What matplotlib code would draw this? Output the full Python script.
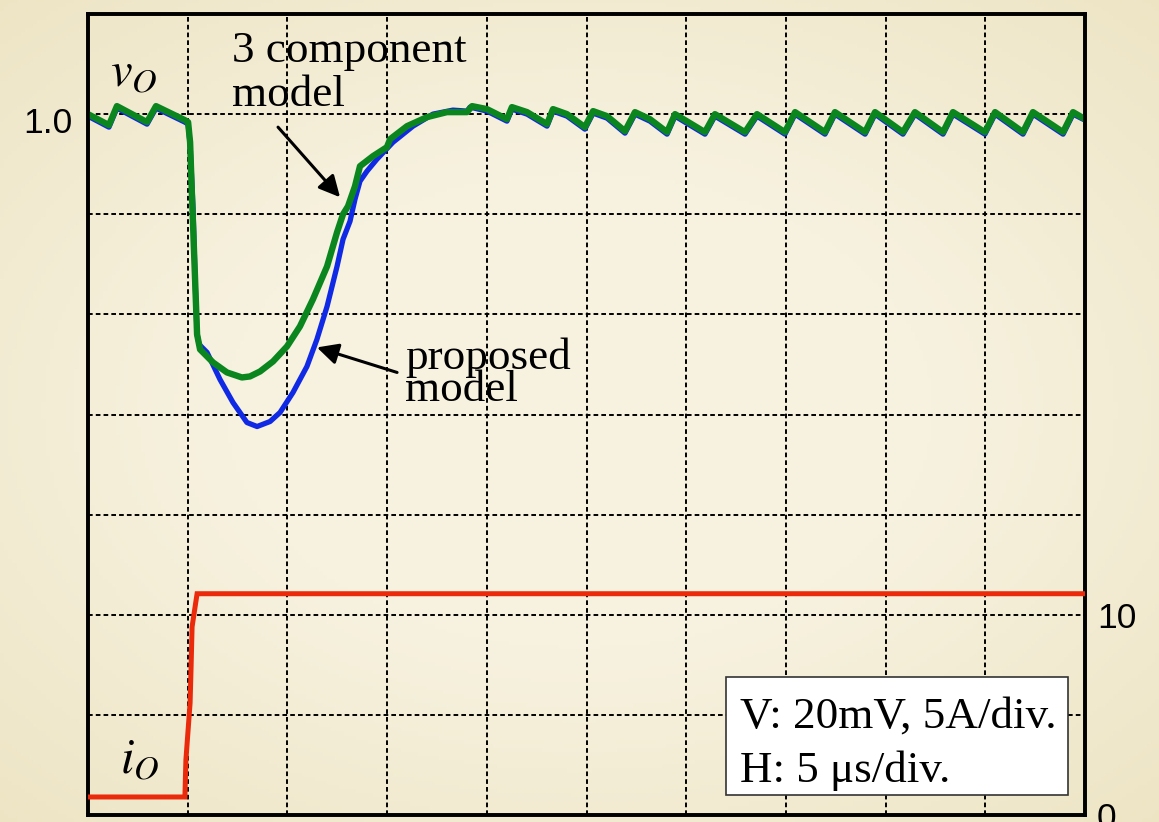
import numpy as np
import matplotlib
matplotlib.use("Agg")
import matplotlib.pyplot as plt
import matplotlib.transforms as mtransforms
from matplotlib.patches import Rectangle

# ---- waveform data (time in microseconds, output voltage in V, current in A) ----
t_three = [0.00, 1.05, 1.45, 2.96, 3.41, 4.86, 5.02, 5.12, 5.22, 5.37, 5.47, 5.62,
           6.27, 6.97, 7.72, 8.12, 8.63, 9.28, 9.98, 10.63, 11.28, 11.99, 12.49,
           12.79, 13.04, 13.39, 13.64, 14.29, 14.99, 15.15, 16.00, 17.00, 18.00,
           19.01, 19.26, 20.01, 21.01, 21.26, 22.02, 23.02, 23.32, 24.02, 24.92,
           25.33, 26.03, 26.93, 27.43, 28.18, 29.04, 29.44, 30.94, 31.44, 32.95,
           33.55, 34.95, 35.46, 36.96, 37.46, 38.97, 39.47, 40.87, 41.47, 42.88,
           43.38, 44.98, 45.49, 46.89, 47.39, 48.90, 49.40, 50.00]
v_three = [1.0000, 0.9978, 1.0016, 0.9984, 1.0016, 0.9988, 0.9984, 0.9944, 0.9830,
           0.9670, 0.9560, 0.9530, 0.9504, 0.9484, 0.9474, 0.9476, 0.9486, 0.9506,
           0.9536, 0.9576, 0.9630, 0.9696, 0.9764, 0.9800, 0.9816, 0.9856, 0.9896,
           0.9916, 0.9934, 0.9950, 0.9976, 0.9994, 1.0004, 1.0004, 1.0016, 1.0010,
           0.9990, 1.0014, 1.0004, 0.9980, 1.0010, 1.0000, 0.9974, 1.0006, 0.9996,
           0.9966, 1.0004, 0.9990, 0.9964, 1.0000, 0.9964, 1.0000, 0.9964, 1.0000,
           0.9964, 1.0004, 0.9964, 1.0004, 0.9964, 1.0004, 0.9964, 1.0004, 0.9964,
           1.0004, 0.9964, 1.0004, 0.9964, 1.0004, 0.9964, 1.0004, 0.9990]

t_prop = [0.00, 1.05, 1.45, 2.96, 3.41, 4.86, 5.02, 5.12, 5.27, 5.37, 5.47, 5.57,
          5.97, 6.62, 7.27, 7.97, 8.48, 9.13, 9.63, 10.28, 10.98, 11.48, 11.99,
          12.49, 12.79, 13.14, 13.39, 13.64, 13.99, 14.49, 15.30, 16.30, 17.30,
          18.30, 19.01, 19.16, 20.01, 21.01, 21.26, 22.02, 23.02, 23.32, 24.02,
          24.92, 25.33, 26.03, 26.93, 27.43, 28.18, 29.04, 29.44, 30.94, 31.44,
          32.95, 33.55, 34.95, 35.46, 36.96, 37.46, 38.97, 39.47, 40.87, 41.47,
          42.88, 43.38, 44.98, 45.49, 46.89, 47.39, 48.90, 49.40, 50.00]
v_prop = [0.9996, 0.9974, 1.0012, 0.9980, 1.0012, 0.9984, 0.9980, 0.9940, 0.9810,
          0.9670, 0.9560, 0.9540, 0.9524, 0.9470, 0.9424, 0.9384, 0.9376, 0.9386,
          0.9404, 0.9444, 0.9496, 0.9550, 0.9616, 0.9696, 0.9750, 0.9786, 0.9830,
          0.9866, 0.9886, 0.9910, 0.9944, 0.9976, 1.0000, 1.0008, 1.0006, 1.0014,
          1.0006, 0.9986, 1.0010, 1.0000, 0.9976, 1.0006, 0.9996, 0.9970, 1.0002,
          0.9992, 0.9962, 1.0000, 0.9986, 0.9960, 0.9996, 0.9960, 0.9996, 0.9960,
          0.9996, 0.9960, 1.0000, 0.9960, 1.0000, 0.9960, 1.0000, 0.9960, 1.0000,
          0.9960, 1.0000, 0.9960, 1.0000, 0.9960, 1.0000, 0.9960, 1.0000, 0.9988]

t_io = [0.00, 4.86, 4.91, 5.12, 5.17, 5.22, 5.47, 50.00]
i_io = [0.90, 0.90, 2.75, 5.60, 7.40, 9.40, 11.05, 11.05]

v_ticks = [0.86, 0.88, 0.90, 0.92, 0.94, 0.96, 0.98, 1.00, 1.02]
v_tick_labels = ["", "", "", "", "", "", "", "1.0", ""]
i_ticks = [0, 10]
i_tick_labels = ["0", "10"]
t_ticks = [0, 5, 10, 15, 20, 25, 30, 35, 40, 45, 50]

BLUE = "#1029E4"
GREEN = "#0B861F"
RED = "#EA2A0B"

plt.rcParams["font.family"] = ["Liberation Sans", "DejaVu Sans"]
plt.rcParams["mathtext.fontset"] = "stix"

fig = plt.figure(figsize=(11.59, 8.22), dpi=100)

# soft parchment background with darker edges
bg = fig.add_axes([0, 0, 1, 1], zorder=-10)
yy, xx = np.mgrid[-1:1:200j, -1:1:280j]
r = np.clip(np.sqrt((xx * 0.9) ** 2 + (yy * 0.95) ** 2), 0, 1.4)
c_in = np.array([247, 242, 224]) / 255.0
c_out = np.array([237, 228, 195]) / 255.0
w = np.clip((r - 0.55) / 0.8, 0, 1)[..., None]
bg.imshow(c_in * (1 - w) + c_out * w, aspect="auto", extent=[0, 1, 0, 1])
bg.axis("off")

ax = fig.add_axes([88 / 1159, 1 - 815 / 822, (1085 - 88) / 1159, (815 - 14) / 822])
ax.set_facecolor("none")
ax2 = ax.twinx()

ax.set_xlim(0, 50)
ax.set_ylim(0.86, 1.02)
ax2.set_ylim(0, 40)

ax.set_xticks(t_ticks)
ax.set_xticklabels([])
ax.set_yticks(v_ticks)
ax.set_yticklabels(v_tick_labels, fontsize=25.5)
ax.tick_params(axis="both", length=0, pad=11.5)
ax2.set_yticks(i_ticks)
ax2.set_yticklabels(i_tick_labels, fontsize=25.5)
ax2.tick_params(axis="y", length=0, pad=8.5)

# the left label sits a little below its grid line
shift = mtransforms.ScaledTranslation(0, -6 / 100, fig.dpi_scale_trans)
for lbl in ax.get_yticklabels():
    lbl.set_transform(lbl.get_transform() + shift)

ax.grid(True, color="black", linewidth=1.4, linestyle=(0, (2.4, 1.6)))
for sp in list(ax.spines.values()) + list(ax2.spines.values()):
    sp.set_linewidth(2.6)
    sp.set_color("black")

ax.plot(t_prop, v_prop, color=BLUE, linewidth=3.8, solid_joinstyle="round", zorder=3)
ax.plot(t_three, v_three, color=GREEN, linewidth=4.6, solid_joinstyle="round", zorder=4)
ax2.plot(t_io, i_io, color=RED, linewidth=3.6, solid_joinstyle="miter", zorder=3)

serif = ["Liberation Serif", "DejaVu Serif"]
FS = 32.5

# signal names
ax.text(1.10, 1.0056, r"$v_O$", fontsize=35, va="baseline", ha="left")
ax2.text(1.60, 2.10, r"$i_O$", fontsize=35, va="baseline", ha="left")

# model labels with pointers
ax.text(7.22, 1.0104, "3 component", family=serif, fontsize=FS, va="baseline")
ax.text(7.22, 1.0016, "model", family=serif, fontsize=FS, va="baseline")
ax.annotate("", xy=(12.64, 0.9834), xytext=(9.53, 0.9974),
            arrowprops=dict(arrowstyle="-|>", color="black", lw=2.2,
                            mutation_scale=32, shrinkA=0, shrinkB=0))

ax.text(15.90, 0.9490, "proposed", family=serif, fontsize=FS, va="baseline")
ax.text(15.90, 0.9426, "model", family=serif, fontsize=FS, va="baseline")
ax.annotate("", xy=(11.48, 0.9534), xytext=(15.50, 0.9484),
            arrowprops=dict(arrowstyle="-|>", color="black", lw=2.2,
                            mutation_scale=32, shrinkA=0, shrinkB=0))

# scale box
ax2.add_patch(Rectangle((32.0, 1.0), 17.15, 5.9, facecolor="white",
                        edgecolor="#333333", linewidth=1.2, zorder=6))
ax2.text(32.70, 4.35, "V: 20mV, 5A/div.", family=serif, fontsize=FS,
         va="baseline", zorder=7)
ax2.text(32.70, 1.65, "H: 5 \u03bcs/div.", family=serif, fontsize=FS,
         va="baseline", zorder=7)

fig.savefig("out.png", dpi=100)
